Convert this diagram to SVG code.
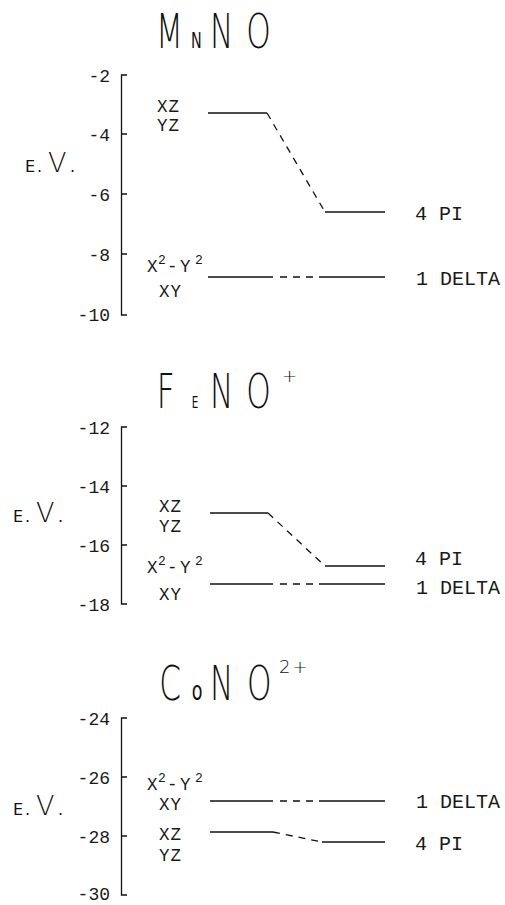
<svg xmlns="http://www.w3.org/2000/svg" width="505" height="905" viewBox="0 0 505 905">
  <style>
    .bg { fill: #ffffff; }
    .axis, .level { fill: none; stroke: #111111; stroke-width: 1.3; }
    .link { fill: none; stroke: #111111; stroke-width: 1.3; stroke-dasharray: 7 6; }
    .title { font-family: "DejaVu Sans", "Liberation Sans", sans-serif; font-weight: 200; font-size: 48px; fill: #111111; }
    .small { font-weight: normal; }
    .unit { font-family: "DejaVu Sans", "Liberation Sans", sans-serif; font-weight: 200; fill: #111111; }
    .mono { font-family: "Liberation Mono", "DejaVu Sans Mono", monospace; fill: #1a1a1a; }
    .tick { font-size: 18px; text-anchor: end; }
    .lab { font-size: 17.5px; letter-spacing: 1px; }
    .orb { font-size: 20px; }
    .sup { font-size: 13px; letter-spacing: 0; }
  </style>
  <rect class="bg" x="0" y="0" width="505" height="905"/>

  <!-- ===================== MnNO ===================== -->
  <g id="panel-mnno">
    <g transform="translate(0,48) scale(0.65,1)">
      <text class="title" y="0"><tspan x="240">M</tspan><tspan class="small" x="294" font-size="22">N</tspan><tspan x="323">N</tspan><tspan x="379">O</tspan></text>
    </g>
    <path class="axis" d="M127,75 H121.5 V315 H127 M121.5,134 H127 M121.5,194 H127 M121.5,254 H127"/>
    <g class="mono tick">
      <text x="110" y="82">-2</text>
      <text x="110" y="141">-4</text>
      <text x="110" y="201">-6</text>
      <text x="110" y="261">-8</text>
      <text x="110" y="321">-10</text>
    </g>
    <text class="unit" y="172"><tspan class="small" x="25" font-size="16">E</tspan><tspan class="small" x="37" font-size="16">.</tspan><tspan x="48" font-size="27">V</tspan><tspan class="small" x="70" font-size="16">.</tspan></text>
  </g>
  <g id="mnno-pi-metal">
    <path class="level" d="M208,113 H267"/>
    <text class="mono lab" x="157" y="112">XZ</text>
    <text class="mono lab" x="157" y="131">YZ</text>
  </g>
  <g id="mnno-delta-metal">
    <path class="level" d="M208,277 H273"/>
    <text class="mono lab" y="272"><tspan x="147">X</tspan><tspan class="sup" x="158" dy="-8">2</tspan><tspan x="167" dy="8">-</tspan><tspan x="180">Y</tspan><tspan class="sup" x="195" dy="-8">2</tspan></text>
    <text class="mono lab" x="159" y="297">XY</text>
  </g>
  <g id="mnno-4pi">
    <path class="level" d="M325,212 H385"/>
    <text class="mono orb" x="415" y="220">4 PI</text>
  </g>
  <g id="mnno-1delta">
    <path class="level" d="M320,277 H385"/>
    <text class="mono orb" x="416" y="285">1 DELTA</text>
  </g>

  <!-- ===================== FeNO+ ===================== -->
  <g id="panel-feno">
    <g transform="translate(0,408) scale(0.65,1)">
      <text class="title" y="0"><tspan x="241">F</tspan><tspan class="small" x="295" font-size="16">E</tspan><tspan x="323">N</tspan><tspan x="379">O</tspan></text>
    </g>
    <text class="unit" x="282" y="382" font-size="18">+</text>
    <path class="axis" d="M127,427 H121.5 V604 H127 M121.5,486 H127 M121.5,545 H127"/>
    <g class="mono tick">
      <text x="110" y="434">-12</text>
      <text x="110" y="493">-14</text>
      <text x="110" y="552">-16</text>
      <text x="110" y="611">-18</text>
    </g>
    <text class="unit" y="522"><tspan class="small" x="13" font-size="16">E</tspan><tspan class="small" x="25" font-size="16">.</tspan><tspan x="36" font-size="27">V</tspan><tspan class="small" x="58" font-size="16">.</tspan></text>
  </g>
  <g id="feno-pi-metal">
    <path class="level" d="M210,513 H268"/>
    <text class="mono lab" x="159" y="512">XZ</text>
    <text class="mono lab" x="159" y="532">YZ</text>
  </g>
  <g id="feno-delta-metal">
    <path class="level" d="M210,584 H273"/>
    <text class="mono lab" y="573"><tspan x="147">X</tspan><tspan class="sup" x="158" dy="-8">2</tspan><tspan x="167" dy="8">-</tspan><tspan x="180">Y</tspan><tspan class="sup" x="195" dy="-8">2</tspan></text>
    <text class="mono lab" x="159" y="600">XY</text>
  </g>
  <g id="feno-4pi">
    <path class="level" d="M325,566 H385"/>
    <text class="mono orb" x="415" y="565">4 PI</text>
  </g>
  <g id="feno-1delta">
    <path class="level" d="M320,584 H385"/>
    <text class="mono orb" x="416" y="594">1 DELTA</text>
  </g>

  <!-- ===================== CoNO2+ ===================== -->
  <g id="panel-cono">
    <g transform="translate(0,700) scale(0.65,1)">
      <text class="title" y="0"><tspan x="245">C</tspan><tspan class="small" x="295" font-size="27">o</tspan><tspan x="323">N</tspan><tspan x="380">O</tspan></text>
    </g>
    <text class="unit" x="279" y="673" font-size="18" letter-spacing="2">2+</text>
    <path class="axis" d="M127,718 H121.5 V895 H127 M121.5,777 H127 M121.5,836 H127"/>
    <g class="mono tick">
      <text x="110" y="725">-24</text>
      <text x="110" y="784">-26</text>
      <text x="110" y="843">-28</text>
      <text x="110" y="900">-30</text>
    </g>
    <text class="unit" y="815"><tspan class="small" x="13" font-size="16">E</tspan><tspan class="small" x="25" font-size="16">.</tspan><tspan x="36" font-size="27">V</tspan><tspan class="small" x="58" font-size="16">.</tspan></text>
  </g>
  <g id="cono-delta-metal">
    <path class="level" d="M210,801 H273"/>
    <text class="mono lab" y="790"><tspan x="147">X</tspan><tspan class="sup" x="158" dy="-8">2</tspan><tspan x="167" dy="8">-</tspan><tspan x="180">Y</tspan><tspan class="sup" x="195" dy="-8">2</tspan></text>
    <text class="mono lab" x="159" y="810">XY</text>
  </g>
  <g id="cono-pi-metal">
    <path class="level" d="M210,832 H273"/>
    <text class="mono lab" x="159" y="840">XZ</text>
    <text class="mono lab" x="159" y="861">YZ</text>
  </g>
  <g id="cono-1delta">
    <path class="level" d="M320,801 H385"/>
    <text class="mono orb" x="416" y="808">1 DELTA</text>
  </g>
  <g id="cono-4pi">
    <path class="level" d="M322,842 H385"/>
    <text class="mono orb" x="415" y="850">4 PI</text>
  </g>

  <!-- correlation connectors between metal d levels and NO-derived levels -->
  <g id="connectors">
    <path class="link" d="M267,113 L325,212"/>
    <path class="link" d="M280,277 H320"/>
    <path class="link" d="M268,513 L325,566"/>
    <path class="link" d="M280,584 H320"/>
    <path class="link" d="M280,801 H320"/>
    <path class="link" d="M273,832 L322,842"/>
  </g>
</svg>
